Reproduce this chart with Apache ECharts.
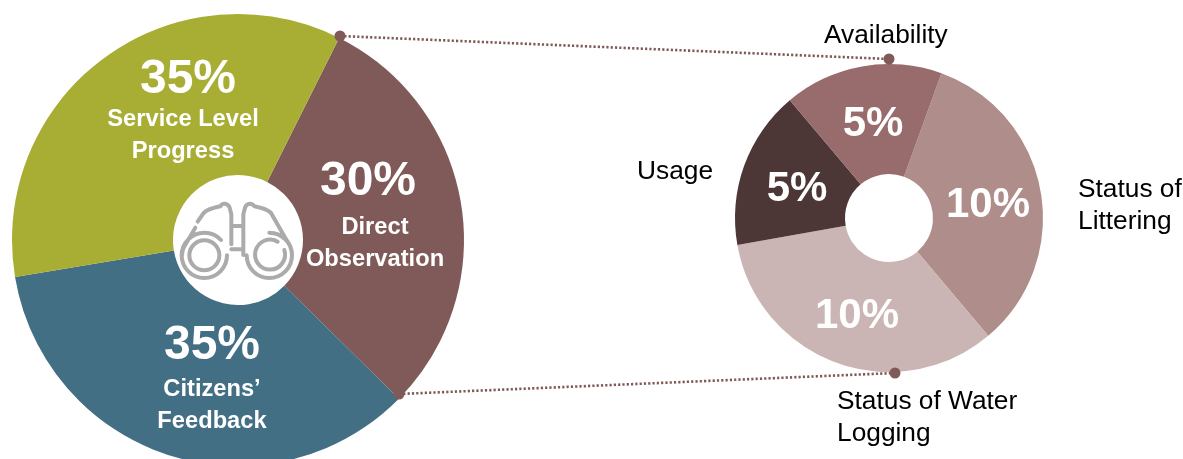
<!DOCTYPE html>
<html><head><meta charset="utf-8">
<style>html,body{margin:0;padding:0;background:#fff}#c{width:1183px;height:459px}</style>
<script src="https://cdn.jsdelivr.net/npm/echarts@6/dist/echarts.min.js"></script>
</head><body><div id="c"></div>
<script>
const mainNames = ['Direct\nObservation', 'Citizens’\nFeedback', 'Service Level\nProgress'];
const mainValues = [30, 35, 35];
const mainColors = ['#7F5A58', '#436F85', '#A8AD33'];
const detailNames = ['Status of\nLittering', 'Status of Water\nLogging', 'Usage', 'Availability'];
const detailValues = [10, 10, 5, 5];
const detailColors = ['#AF8D8B', '#CBB4B4', '#4D3636', '#986B6C'];

const mainLabelAt = [[375, 214], [212, 378], [183, 111.5]];
const detailLabelAt = [[988, 205], [857, 316], [797, 189], [873, 124]];
const detailNameAt = [[1078, 206], [837, 418], [637, 172], [824, 36]];

const F = 'Liberation Sans';
const GREY = '#ABABAB', LINK = '#7F5A58';
const binoculars =
 'M201 256a68 68 0 1 1 -68 -68c20 0 38 8 50 22' +
 'M178 256a45 45 0 1 1 -45 -45c25 0 45 20 45 45' +
 'M260 256a68 68 0 1 0 68 -68c37 0 68 30 68 68c0 38 -30 68 -68 68c-38 0 -68 -30 -68 -68' +
 'M373 240a45 45 0 1 1 -20 -25' +
 'M66 256c0 -10 2 -18 6 -25l34 -58' +
 'M113 155l18 -26c12 -12 30 -16 50 -20c5 -10 22 -12 28 4l5 20v90' +
 'M250 255v-122l5 -20c6 -16 22 -14 28 -4c20 4 38 8 50 20l40 70l18 30c3 7 5 15 5 27' +
 'M214 168h36M214 238h36';
const iconUri = 'data:image/svg+xml;charset=utf-8,' + encodeURIComponent(
 '<svg xmlns="http://www.w3.org/2000/svg" width="450" height="420" viewBox="0 0 450 420"><path d="' + binoculars +
 '" fill="none" stroke="' + GREY + '" stroke-width="12" stroke-linecap="round" stroke-linejoin="round"/></svg>');

const chart = echarts.init(document.getElementById('c'), null, {renderer: 'canvas'});
function pie(names, values, colors, center, radius, startAngle, at, rich, fmt) {
  return {
    type: 'pie', center, radius, startAngle, clockwise: true, silent: true, animation: false,
    avoidLabelOverlap: false,
    labelLine: {show: false},
    data: values.map((v, i) => ({name: names[i], value: v, itemStyle: {color: colors[i], borderWidth: 0}})),
    label: {show: true, position: 'inside', formatter: fmt, rich, color: '#fff', fontFamily: F},
    labelLayout: p => ({x: at[p.dataIndex][0], y: at[p.dataIndex][1], align: 'center', verticalAlign: 'middle'})
  };
}
const dot = (x, y) => ({type: 'circle', shape: {cx: x, cy: y, r: 5.5}, style: {fill: LINK}, z: 20});
const link = (a, b, c, d) => ({type: 'line', shape: {x1: a, y1: b, x2: c, y2: d},
  style: {stroke: LINK, lineWidth: 2.6, lineDash: [2.2, 2.1]}, z: 19});
const pct = (lineHeight, padding) => ({fontSize: 48, fontWeight: 'bold', color: '#fff', fontFamily: F, lineHeight, padding});

chart.setOption({
  backgroundColor: '#fff',
  animation: false,
  textStyle: {fontFamily: F},
  series: [
    pie(mainNames, mainValues, mainColors, [238, 240], [65, 226], 63.4, mainLabelAt, {
      p0: pct(59, [0, 14, 0, 0]),
      p1: pct(54, 0),
      p2: pct(48, [0, 0, 0, 10]),
      n: {fontSize: 23.7, fontWeight: 'bold', color: '#fff', fontFamily: F, lineHeight: 32}
    }, p => '{p' + p.dataIndex + '|' + p.value + '%}\n' + p.name.split('\n').map(s => '{n|' + s + '}').join('\n')),
    pie(detailNames, detailValues, detailColors, [889, 218], [44, 154], 70.1, detailLabelAt, {
      p: {fontSize: 42, fontWeight: 'bold', color: '#fff', fontFamily: F}
    }, p => '{p|' + p.value + '%}')
  ],
  graphic: [
    link(340, 36, 889, 59), link(399, 394, 895, 373),
    dot(340, 36), dot(889, 59), dot(399, 394), dot(895, 373),
    {type: 'image', x: 160, y: 170, z: 15, style: {image: iconUri, width: 150, height: 140}},
    ...detailNames.map((n, i) => ({type: 'text', x: detailNameAt[i][0], y: detailNameAt[i][1], z: 21,
      style: {text: n, fill: '#000', fontFamily: F, fontSize: 26.3, lineHeight: 32, verticalAlign: 'middle', align: 'left'}}))
  ]
});
</script></body></html>
